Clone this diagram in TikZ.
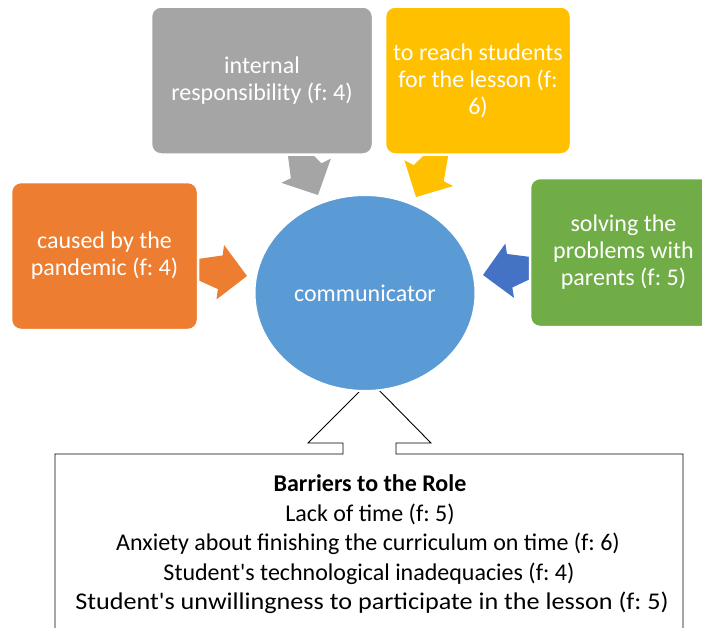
\documentclass[tikz,border=0pt]{standalone}
\usepackage{fontspec}
\setmainfont{Carlito}[Ligatures=TeXOff]
\usetikzlibrary{calc,shapes.geometric}
\definecolor{cOrange}{HTML}{ED7D31}
\definecolor{cGray}{HTML}{A5A5A5}
\definecolor{cYellow}{HTML}{FFC000}
\definecolor{cGreen}{HTML}{70AD47}
\definecolor{cBlue}{HTML}{5B9BD5}
\definecolor{cArrowBlue}{HTML}{4472C4}
\newcommand{\blockarrow}[3]{%
  \coordinate (hb) at ($(#2)!27pt!(#3)$);
  \coordinate (tb) at (#3);
  \fill[#1] (#2) -- ($(hb)!27.5pt!90:(#2)$) -- ($(hb)!17pt!90:(#2)$)
    -- ($(tb)!17pt!-90:(#2)$) -- ($(tb)!17pt!90:(#2)$)
    -- ($(hb)!17pt!-90:(#2)$) -- ($(hb)!27.5pt!-90:(#2)$) -- cycle;
}
\tikzset{
  box/.style={rounded corners=10pt, draw=white, line width=2.5pt, text=white,
    align=center, inner sep=4pt, font=\fontsize{24}{27}\selectfont},
  bline/.style={anchor=base, inner sep=0pt, font=\fontsize{24}{29}\selectfont}
}
\begin{document}
\frenchspacing
\begin{tikzpicture}[x=1pt,y=-1pt]
\useasboundingbox (0,0) rectangle (702,627);
\clip (0,0) rectangle (702,627);
% box centres
\coordinate (oc) at (104.5,256);
\coordinate (gc) at (262,80.5);
\coordinate (yc) at (478,80.5);
\coordinate (grc) at (623.5,252.5);
% arrow tips
\coordinate (ot) at (247,276);
\coordinate (gt) at (318,195);
\coordinate (yt) at (416,197);
\coordinate (bt) at (483,275);
\blockarrow{cOrange}{ot}{oc}
\blockarrow{cGray}{gt}{gc}
\blockarrow{cYellow}{yt}{yc}
\blockarrow{cArrowBlue}{bt}{grc}
% boxes
\node[box, fill=cGray, minimum width=222pt, minimum height=148pt] (gray) at (gc)
  {internal\\responsibility (f: 4)};
\node[box, fill=cYellow, minimum width=186pt, minimum height=148pt] (yellow) at (yc)
  {to reach students\\for the lesson (f:\\6)};
\node[box, fill=cOrange, minimum width=187pt, minimum height=148pt] (orange) at (oc)
  {caused by the\\pandemic (f: 4)};
\node[box, fill=cGreen, minimum width=187pt, minimum height=149pt] (green) at (grc)
  {solving the\\problems with\\parents (f: 5)};
% callout
\coordinate (ctip) at (370,381);
\draw[fill=white, line width=0.9pt] (55,700) -- (55,454) -- (343,454) -- (343,443)
  -- (308,443) -- (ctip) -- (431,443) -- (396,443) -- (396,454) -- (683,454) -- (683,700);
% central ellipse
\node[ellipse, fill=cBlue, draw=white, line width=2pt, minimum width=221pt,
  minimum height=196pt, text=white, font=\fontsize{24}{27}\selectfont] (comm) at (365,293)
  {communicator};
% callout text
\node[bline] (t0) at (370,491.7) {\textbf{Barriers to the Role}};
\node[bline] (t1) at (370,521.2) {Lack of time (f: 5)};
\node[bline] (t2) at (368,550.6) {Anxiety about finishing the curriculum on time (f: 6)};
\node[bline] (t3) at (369,580) {Student's technological inadequacies (f: 4)};
\node[bline] (t4) at (372,609.3) {\scalebox{1.09}[1]{Student's unwillingness to participate in the lesson (f: 5)}};
\end{tikzpicture}
\end{document}
